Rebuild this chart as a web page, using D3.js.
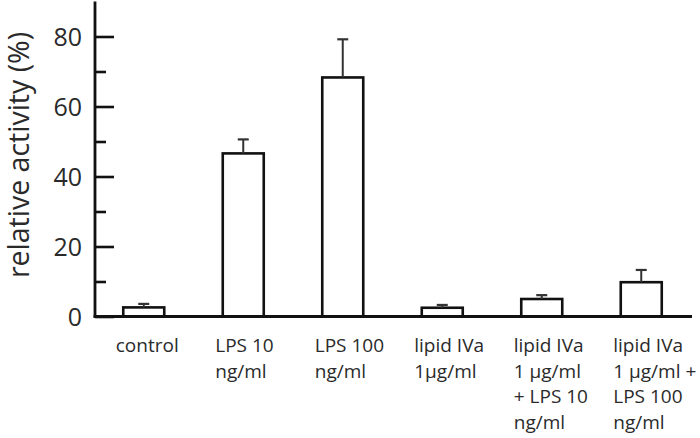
<!DOCTYPE html>
<html>
<head>
<meta charset="utf-8">
<script src="https://cdn.jsdelivr.net/npm/d3@7"></script>
<style>
html,body{margin:0;padding:0;background:#fff;}
svg{display:block;}
text{font-family:"Open Sans",sans-serif;fill:#2a2a2a;}
</style>
</head>
<body>
<svg id="chart" width="700" height="438"></svg>
<script>
const categories = [
  ["control"],
  ["LPS 10", "ng/ml"],
  ["LPS 100", "ng/ml"],
  ["lipid IVa", "1\u00b5g/ml"],
  ["lipid IVa", "1 \u00b5g/ml", "+ LPS 10", "ng/ml"],
  ["lipid IVa", "1 \u00b5g/ml +", "LPS 100", "ng/ml"]
];
const values = [2.6, 46.6, 68.3, 2.5, 5.0, 9.8];
const errors = [1.0, 4.0, 10.9, 0.8, 1.1, 3.5];
const yTicks = [0, 20, 40, 60, 80];
const yMinorTicks = [10, 30, 50, 70];

const svg = d3.select("#chart");
const x = d3.scaleBand().domain(d3.range(categories.length)).range([94, 691]).paddingInner(0.588).paddingOuter(0.294);
const y = d3.scaleLinear().domain([0, 90]).range([316.5, 1.5]);

// bars
svg.selectAll("rect.bar").data(values).enter().append("rect")
  .attr("x", (d, i) => x(i)).attr("y", d => y(d))
  .attr("width", x.bandwidth()).attr("height", d => y(0) - y(d))
  .attr("fill", "#fff").attr("stroke", "#111").attr("stroke-width", 2.6);

// error bars
const eg = svg.selectAll("g.err").data(values).enter().append("g");
eg.append("line")
  .attr("x1", (d, i) => x(i) + x.bandwidth() / 2).attr("x2", (d, i) => x(i) + x.bandwidth() / 2)
  .attr("y1", d => y(d)).attr("y2", (d, i) => y(d + errors[i]))
  .attr("stroke", "#333").attr("stroke-width", 2);
eg.append("line")
  .attr("x1", (d, i) => x(i) + x.bandwidth() / 2 - 5.5).attr("x2", (d, i) => x(i) + x.bandwidth() / 2 + 5.5)
  .attr("y1", (d, i) => y(d + errors[i])).attr("y2", (d, i) => y(d + errors[i]))
  .attr("stroke", "#333").attr("stroke-width", 2.2);

// y axis
const yAxis = d3.axisRight(y).tickValues(yTicks).tickSize(19).tickFormat("");
const ga = svg.append("g").attr("transform", "translate(95,0)").call(yAxis);
ga.select(".domain").remove();
ga.selectAll(".tick line").attr("stroke", "#111").attr("stroke-width", 2.6);
const yMinor = d3.axisRight(y).tickValues(yMinorTicks).tickSize(11).tickFormat("");
const gm = svg.append("g").attr("transform", "translate(95,0)").call(yMinor);
gm.select(".domain").remove();
gm.selectAll(".tick line").attr("stroke", "#111").attr("stroke-width", 2.6);

// y tick labels
svg.selectAll("text.ytl").data(yTicks).enter().append("text")
  .attr("x", 82).attr("y", d => y(d)).attr("dy", "0.36em")
  .attr("text-anchor", "end").style("font-size", "25px").text(d => d);

// axis lines
svg.append("line").attr("x1", 95).attr("x2", 95).attr("y1", y(90)).attr("y2", y(0) + 1.3)
  .attr("stroke", "#111").attr("stroke-width", 2.8);
svg.append("line").attr("x1", 93.6).attr("x2", 692).attr("y1", y(0)).attr("y2", y(0))
  .attr("stroke", "#111").attr("stroke-width", 2.8);

// y title
svg.append("text").attr("transform", "translate(29,155) rotate(-90)")
  .attr("text-anchor", "middle").style("font-size", "28.5px").text("relative activity (%)");

// category labels
const lab = svg.selectAll("text.cat").data(categories).enter().append("text")
  .attr("x", (d, i) => x(i) + x.bandwidth() / 2 - 28).attr("y", 352)
  .style("font-size", "19px");
lab.selectAll("tspan").data(d => d).enter().append("tspan")
  .attr("x", function () { return d3.select(this.parentNode).attr("x"); })
  .attr("dy", (d, j) => j === 0 ? 0 : 25.7).text(d => d);
</script>
</body>
</html>
